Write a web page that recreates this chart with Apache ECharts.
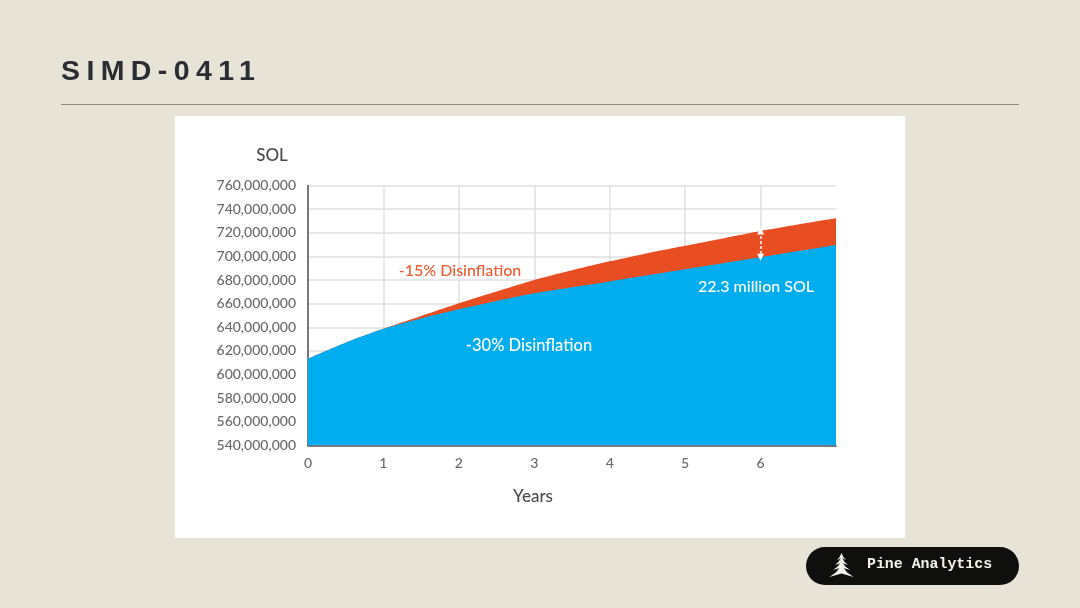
<!DOCTYPE html>
<html>
<head>
<meta charset="utf-8">
<title>SIMD-0411</title>
<script src="https://cdn.jsdelivr.net/npm/echarts@6/dist/echarts.min.js"></script>
<style>
  html, body { margin: 0; padding: 0; background: #e7e3d7; }
  #chart { width: 1080px; height: 608px; }
  #heading {
    position: absolute; left: 61px; top: 53px; margin: 0;
    font: bold 28.5px/34px "Liberation Sans", sans-serif;
    letter-spacing: 6.4px; color: #2b2d33;
  }
</style>
</head>
<body>
<div id="chart"></div>
<h1 id="heading">SIMD-0411</h1>
<script>
// Projected SOL supply by year under the two disinflation schedules (millions of SOL)
const years = [0, 0.5, 1, 1.5, 2, 2.5, 3, 3.5, 4, 4.5, 5, 5.5, 6, 6.5, 7];
const supplyAt15 = [613.5, 627, 638.7, 649.5, 660.3, 670.3, 680, 688.2, 695.8, 702.7, 709, 715.2, 721.5, 727, 732.2];
const supplyAt30 = [613.5, 627, 638.7, 647.5, 655.2, 662.3, 668.8, 673.9, 678.8, 684, 689.1, 694.2, 699.2, 704.5, 709.7];
const gapYear = 6;
const gapTop = 721.5;
const gapBottom = 699.2;

const MILLION = 1000000;
const toPairs = (values) => years.map((y, i) => [y, values[i] * MILLION]);
const bodyFont = 'Lato, sans-serif';
const logoInk = '#f4f2ea';

const caption = (x, y, text, fill, fontSize) => ({
  type: 'text', x, y, z: 10,
  style: { text, fill, font: `500 ${fontSize}px ${bodyFont}`, textAlign: 'center', textVerticalAlign: 'middle' }
});

// One drooping bough of the pine emblem
const bough = (cy, half, h) => ({
  type: 'polygon', z: 11,
  shape: {
    points: [
      [841.5, cy], [841.5 + half * 0.45, cy + h * 0.6], [841.5 + half, cy + h],
      [841.5 + half * 0.3, cy + h * 0.8], [841.5, cy + h * 0.7],
      [841.5 - half * 0.3, cy + h * 0.8], [841.5 - half, cy + h], [841.5 - half * 0.45, cy + h * 0.6]
    ]
  },
  style: { fill: logoInk }
});

const chart = echarts.init(document.getElementById('chart'), null, { renderer: 'canvas' });
chart.setOption({
  animation: false,
  backgroundColor: '#e7e3d7',
  grid: { left: 308, right: 244, top: 185.5, bottom: 162.5, containLabel: false },
  xAxis: {
    type: 'value', min: 0, max: 7, interval: 1,
    name: 'Years', nameLocation: 'middle', nameGap: 43,
    nameTextStyle: { color: '#4a4a4a', fontSize: 17, fontFamily: bodyFont, fontWeight: 500, padding: [0, 78, 0, 0] },
    axisLine: { show: true, onZero: false, lineStyle: { color: '#4f5458', width: 1.5 } },
    axisTick: { show: false },
    axisLabel: { color: '#6a6a6a', fontSize: 14, fontFamily: bodyFont, fontWeight: 500, margin: 11, showMaxLabel: false },
    splitLine: { show: true, showMaxLine: false, lineStyle: { color: '#e0e0e0', width: 1.5 } }
  },
  yAxis: {
    type: 'value', min: 540 * MILLION, max: 760 * MILLION, interval: 20 * MILLION,
    name: 'SOL', nameLocation: 'end', nameGap: 29.5,
    nameTextStyle: { color: '#4a4a4a', fontSize: 17, fontFamily: bodyFont, fontWeight: 500, align: 'center', verticalAlign: 'middle', padding: [0, 72, 0, 0] },
    axisLine: { show: true, onZero: false, lineStyle: { color: '#4f5458', width: 1.5 } },
    axisTick: { show: false },
    axisLabel: {
      color: '#6a6a6a', fontSize: 14, fontFamily: bodyFont, fontWeight: 500, margin: 12,
      formatter: (v) => v.toLocaleString('en-US')
    },
    splitLine: { show: true, lineStyle: { color: '#e0e0e0', width: 1.5 } }
  },
  series: [
    {
      name: '-15% Disinflation', type: 'line', data: toPairs(supplyAt15), smooth: 0.2,
      showSymbol: false, lineStyle: { width: 0 }, z: 3,
      areaStyle: { color: '#e94e23', opacity: 1, origin: 'start' }
    },
    {
      name: '-30% Disinflation', type: 'line', data: toPairs(supplyAt30), smooth: 0.2,
      showSymbol: false, lineStyle: { width: 0 }, z: 4,
      areaStyle: { color: '#00aeef', opacity: 1, origin: 'start' },
      markLine: {
        silent: true, z: 6,
        symbol: ['triangle', 'triangle'], symbolSize: 7,
        label: { show: false },
        lineStyle: { color: '#ffffff', type: [3, 2], width: 1.5 },
        data: [[{ coord: [gapYear, gapTop * MILLION] }, { coord: [gapYear, gapBottom * MILLION] }]]
      }
    }
  ],
  graphic: [
    { type: 'rect', z: -10, shape: { x: 175, y: 116, width: 730, height: 422 }, style: { fill: '#ffffff' } },
    { type: 'line', z: -10, shape: { x1: 61, y1: 104.5, x2: 1019, y2: 104.5 }, style: { stroke: '#8f8e84', lineWidth: 1 } },
    caption(460, 271, '-15% Disinflation', '#ee5a30', 16),
    caption(529, 346, '-30% Disinflation', '#ffffff', 16.5),
    caption(756, 287, '22.3 million SOL', '#ffffff', 16),
    { type: 'rect', z: 10, shape: { x: 806, y: 547, width: 213, height: 38, r: 19 }, style: { fill: '#0f0f0d' } },
    bough(553, 4.5, 7), bough(557, 6.5, 8), bough(561, 8.5, 9), bough(565, 12, 12),
    {
      type: 'text', x: 867, y: 564.5, z: 11,
      style: { text: 'Pine Analytics', fill: logoInk, font: 'bold 14.9px "Liberation Mono", monospace', textVerticalAlign: 'middle' }
    }
  ]
});
</script>
</body>
</html>
